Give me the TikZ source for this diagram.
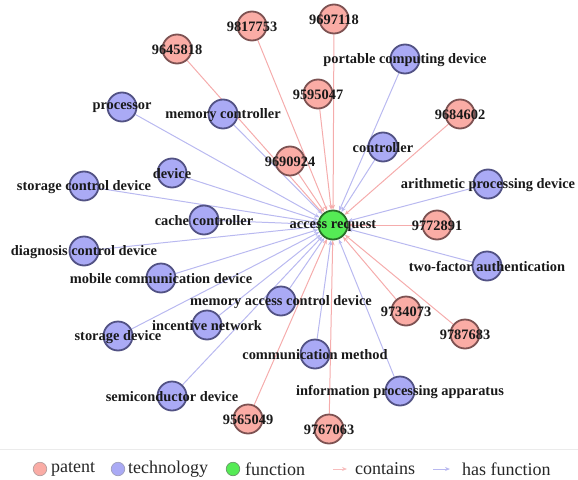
\documentclass[tikz,border=0pt]{standalone}
\usepackage{fontspec}
\setmainfont{Liberation Serif}
\usetikzlibrary{arrows.meta}
\definecolor{pfill}{RGB}{250,172,165}
\definecolor{pbord}{RGB}{125,82,82}
\definecolor{bfill}{RGB}{170,170,245}
\definecolor{bbord}{RGB}{82,82,132}
\definecolor{gfill}{RGB}{85,235,85}
\definecolor{gbord}{RGB}{40,110,40}
\definecolor{pedge}{RGB}{245,172,172}
\definecolor{bedge}{RGB}{185,185,240}
\pgfdeclarelayer{bg}
\pgfdeclarelayer{fg}
\pgfsetlayers{bg,main,fg}
\tikzset{
  circ/.style={circle,inner sep=0pt,minimum size=29pt,line width=1.8pt},
  patent/.style={circ,fill=pfill,draw=pbord},
  tech/.style={circ,fill=bfill,draw=bbord},
  func/.style={circ,fill=gfill,draw=gbord},
  lbl/.style={font=\bfseries\fontsize{14.4}{14}\selectfont,inner sep=0pt,text=black!90},
  cont/.style={draw=pedge,line width=1pt,-{Stealth[length=5pt,width=4pt]}},
  hasf/.style={draw=bedge,line width=1pt,-{Stealth[length=5pt,width=4pt]}},
  leg/.style={font=\fontsize{18}{18}\selectfont,anchor=west,inner sep=0pt,text=black!85},
  legc/.style={circle,inner sep=0pt,minimum size=13.5pt,line width=0.7pt},
}
\begin{document}
\begin{tikzpicture}[x=1pt,y=-1pt]
\useasboundingbox (0,0) rectangle (578,479);
% function
\node[func] (ar) at (333,225) {};
% patents
\foreach \n/\x/\y/\t in {p1/177/49/9645818, p2/252/26/9817753, p3/334/19/9697118, p4/318/94/9595047, p5/460/114/9684602, p6/290/161/9690924, p7/437/225/9772891, p8/406/311/9734073, p9/465/334/9787683, p10/329/429/9767063, p11/248/419/9565049}{
  \node[patent] (\n) at (\x,\y) {};
  \begin{pgfonlayer}{bg}\draw[cont] (\n) -- (ar);\end{pgfonlayer}
  \begin{pgfonlayer}{fg}\node[lbl] (\n l) at (\x,\y+1) {\t};\end{pgfonlayer}
}
% technologies
\foreach \n/\x/\y/\t in {t1/122/107/processor, t2/223/114/memory controller, t3/172/173/device, t4/84/186/storage control device, t5/204/220/cache controller, t6/84/251/diagnosis control device, t7/161/278/mobile communication device, t8/281/301/memory access control device, t9/207/325/incentive network, t10/118/336/storage device, t11/172/396/semiconductor device, t12/315/354/communication method, t13/400/391/information processing apparatus, t14/487/266/two-factor authentication, t15/488/184/arithmetic processing device, t16/383/147/controller, t17/405/59/portable computing device}{
  \node[tech] (\n) at (\x,\y) {};
  \begin{pgfonlayer}{bg}\draw[hasf] (\n) -- (ar);\end{pgfonlayer}
  \begin{pgfonlayer}{fg}\node[lbl] (\n l) at (\x,\y+1) {\t};\end{pgfonlayer}
}
\begin{pgfonlayer}{fg}\node[lbl] (arl) at (333,226) {access request};\end{pgfonlayer}
% legend
\coordinate (sepa) at (0,449);
\coordinate (sepb) at (578,449);
\draw[black!8,line width=0.6pt] (sepa) -- (sepb);
\node[legc,fill=pfill,draw=pbord!55] (lp) at (40,469) {};
\node[leg] (lpt) at (51,469) {patent};
\node[legc,fill=bfill,draw=bbord!55] (lt) at (118,469) {};
\node[leg] (ltt) at (128,469) {technology};
\node[legc,fill=gfill,draw=gbord!70] (lf) at (233,469) {};
\node[leg] (lft) at (245,469) {function};
\coordinate (lca) at (333,469);
\coordinate (lcb) at (347,469);
\draw[cont,pedge!80] (lca) -- (lcb);
\node[leg] (lct) at (355,469) {contains};
\coordinate (lha) at (433,469);
\coordinate (lhb) at (450,469);
\draw[hasf] (lha) -- (lhb);
\node[leg] (lht) at (462,469) {has function};
\end{tikzpicture}
\end{document}
